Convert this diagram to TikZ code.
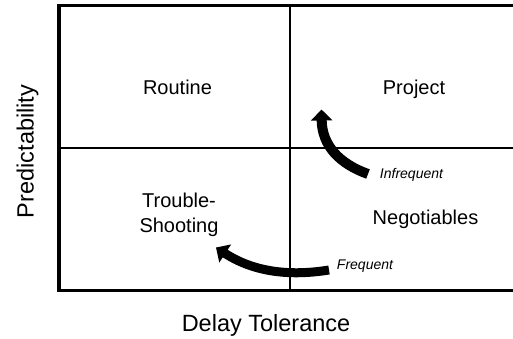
\documentclass[tikz,border=0pt]{standalone}
\usepackage{fontspec}
\setmainfont{Liberation Sans}
\usetikzlibrary{arrows.meta}
\begin{document}
\begin{tikzpicture}[x=1pt,y=-1pt,
  quad/.style={font=\fontsize{20}{25}\selectfont, anchor=base, align=center, inner sep=0pt},
  axislabel/.style={font=\fontsize{23.5}{28}\selectfont, anchor=base, inner sep=0pt},
  freq/.style={font=\fontsize{14}{16}\selectfont\itshape, anchor=base, inner sep=0pt},
  frame/.style={line width=3pt},
  divider/.style={line width=1.2pt},
  bigarrow/.style={line width=10pt, -{Triangle[width=21pt,length=11pt]}}]
\useasboundingbox (0,0) rectangle (513,339);
% frame (right side runs off the picture)
\draw[frame] (513,6) -- (58.5,6) -- (58.5,290) -- (513,290);
\draw[line width=4pt] (58.5,4.5) -- (58.5,291.5);
% dividers
\draw[divider] (290,6) -- (290,290);
\draw[divider] (58.5,148) -- (513,148);
% quadrant labels
\node[quad] (routine) at (177.5,94.5) {Routine};
\node[quad] (project) at (414,94.5) {Project};
\node[quad, anchor=north] (trouble) at (179,193.3) {Trouble-\\Shooting};
\node[quad] (nego) at (425.5,224) {Negotiables};
% frequency labels
\node[freq] (infreq) at (411.5,178) {Infrequent};
\node[freq] (freq) at (365,269.3) {Frequent};
% axis labels
\node[axislabel] (delay) at (266,331.5) {Delay Tolerance};
\node[axislabel, rotate=90] (pred) at (33.5,151.5) {Predictability};
% arrows
\coordinate (infTail) at (368,174);
\coordinate (infTip) at (321.5,109.5);
\coordinate (frqTail) at (329,270);
\coordinate (frqTip) at (216,247.5);
\draw[bigarrow] (infTail) .. controls (340,164) and (322,146) .. (infTip);
\draw[bigarrow, line width=9pt] (frqTail) .. controls (292,276) and (255,273) .. (frqTip);
\end{tikzpicture}
\end{document}
